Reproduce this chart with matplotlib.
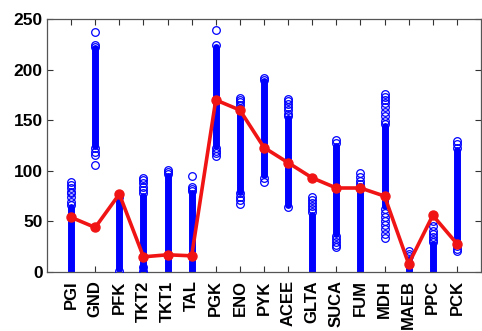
import matplotlib
matplotlib.use("Agg")
import matplotlib.pyplot as plt

categories = ['PGI', 'GND', 'PFK', 'TKT2', 'TKT1', 'TAL', 'PGK', 'ENO', 'PYK',
              'ACEE', 'GLTA', 'SUCA', 'FUM', 'MDH', 'MAEB', 'PPC', 'PCK']
line_vals = [54, 44, 77, 15, 17, 16, 170, 160, 123, 108, 93, 83, 83, 75, 8, 56, 28]

# dense part of each sample column (lowest / highest value)
dense_lo = [0, 125, 3, 0, 0, 0, 125, 79, 96, 66, 0, 38, 0, 65, 0, 0, 30]
dense_hi = [64, 221, 73, 75, 95, 78, 222, 163, 189, 152, 56, 125, 82, 144, 13, 28, 121]

# separately visible sample points
pts_PGI = [89, 86, 83, 79, 78, 74, 69, 66]
pts_GND = [237, 224, 222, 123, 119, 116, 106]
pts_PFK = [76, 74, 1]
pts_TKT2 = [93, 91, 88, 84, 81, 78, 5, 1]
pts_TKT1 = [101, 99, 97]
pts_TAL = [95, 84, 82, 80]
pts_PGK = [239, 224, 123, 120, 118, 115]
pts_ENO = [172, 170, 168, 165, 78, 74, 71, 67]
pts_PYK = [192, 190, 93, 89]
pts_ACEE = [171, 169, 166, 163, 160, 156, 154, 64]
pts_GLTA = [74, 71, 68, 65, 62, 59]
pts_SUCA = [130, 127, 36, 33, 30, 27, 25]
pts_FUM = [98, 94, 90, 87, 84]
pts_MDH = [176, 173, 170, 167, 163, 158, 154, 149, 146, 62, 58, 54, 50, 46, 42, 38, 34]
pts_MAEB = [21, 18, 16]
pts_PPC = [50, 45, 41, 38, 35, 32, 30]
pts_PCK = [129, 126, 123, 26, 23, 21]
points = [pts_PGI, pts_GND, pts_PFK, pts_TKT2, pts_TKT1, pts_TAL, pts_PGK, pts_ENO,
          pts_PYK, pts_ACEE, pts_GLTA, pts_SUCA, pts_FUM, pts_MDH, pts_MAEB, pts_PPC, pts_PCK]

yticks = [0, 50, 100, 150, 200, 250]

plt.rcParams['font.family'] = ['Liberation Sans', 'DejaVu Sans']

fig = plt.figure(figsize=(4.82, 3.31), dpi=100)
ax = fig.add_axes([47 / 482, 59 / 331, 434 / 482, 253 / 331])

xs = list(range(1, len(categories) + 1))
blue = '#0000ff'

lc = ax.vlines(xs, dense_lo, dense_hi, colors=blue, linewidth=5.0, zorder=2)
lc.set_capstyle('round')

for x, vals in zip(xs, points):
    ax.plot([x] * len(vals), vals, linestyle='none', marker='o', markersize=5.5,
            markerfacecolor='none', markeredgecolor=blue, markeredgewidth=0.9, zorder=3)

ax.plot(xs, line_vals, color='#f01414', linewidth=2.6, marker='o', markersize=6.5,
        markerfacecolor='#f01414', markeredgecolor='#f01414', zorder=5)

ax.set_xlim(0, 18)
ax.set_ylim(0, 250)
ax.set_xticks(xs)
ax.set_xticklabels(categories, rotation=90, fontsize=12, fontweight='bold')
ax.set_yticks(yticks)
ax.set_yticklabels([str(v) for v in yticks], fontsize=12.5, fontweight='bold')

ax.tick_params(axis='both', direction='in', length=4, width=0.8, color='#333333',
               top=True, right=True)
ax.tick_params(axis='x', pad=6)
ax.tick_params(axis='y', pad=3)
for s in ax.spines.values():
    s.set_color('#555555')
    s.set_linewidth(0.9)

fig.savefig('out.png', dpi=100)
